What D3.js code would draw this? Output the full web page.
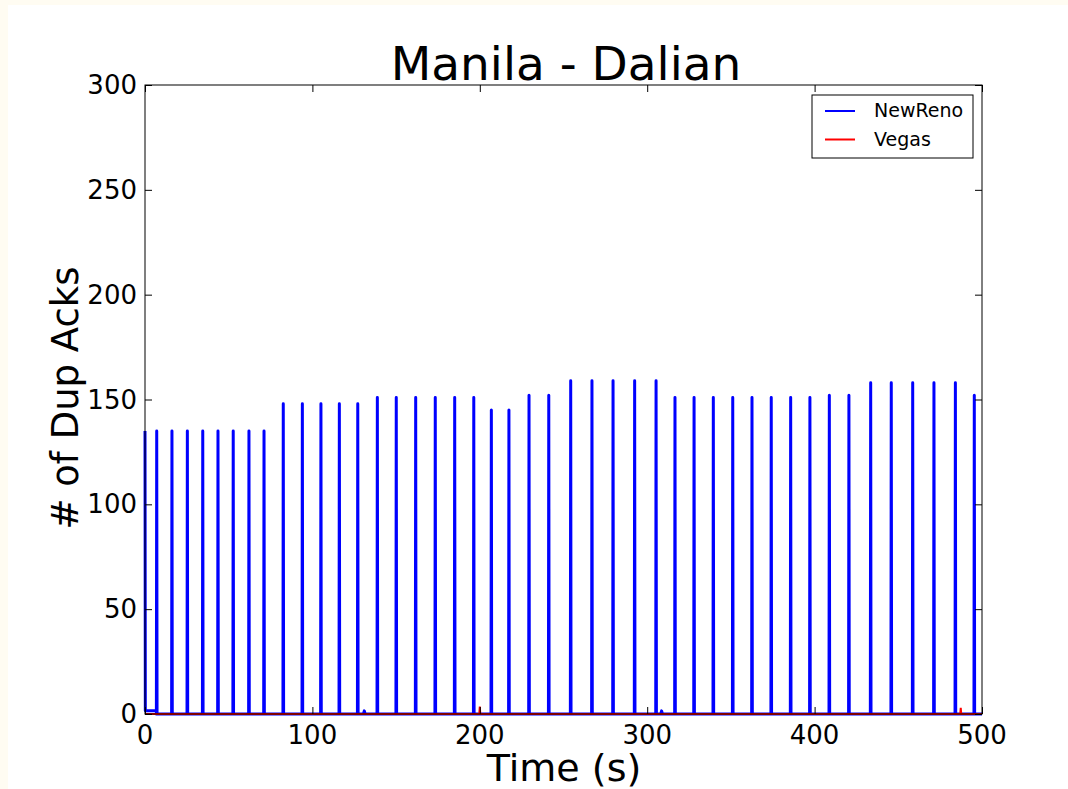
<!DOCTYPE html>
<html>
<head>
<meta charset="utf-8">
<script src="https://cdn.jsdelivr.net/npm/d3@7"></script>
<style>
  body { margin: 0; background: #fffcf2; }
  svg { display: block; }
</style>
</head>
<body>
<div id="viz-container"></div>
<script>
let w = 1068;
let h = 789;

// spike times (s) and heights for NewReno
let renoTimes = [0, 7.0, 16.1, 25.3, 34.5, 43.6, 52.7, 62.1, 71.1,
  82.6, 94.0, 105.1, 116.1, 127.1,
  138.8, 150.1, 161.7, 173.4, 185.0, 196.4,
  206.9, 217.4, 229.4, 241.2,
  254.3, 267.0, 279.6, 292.5, 305.3,
  316.6, 328.0, 339.5, 351.1, 362.6, 374.1, 385.7, 397.2,
  408.8, 420.5,
  433.5, 445.8, 458.6, 471.3, 484.1, 495.4];
let renoValues = [135, 135, 135, 135, 135, 135, 135, 135, 135,
  148, 148, 148, 148, 148,
  151, 151, 151, 151, 151, 151,
  145, 145, 152, 152,
  159, 159, 159, 159, 159,
  151, 151, 151, 151, 151, 151, 151, 151,
  152, 152,
  158, 158, 158, 158, 158, 152];
// small blips near the floor
let renoBlipTimes = [131, 308.6];
let renoBlipValues = [1.5, 1.5];
let vegasBlipTimes = [200, 487.3];
let vegasBlipValues = [3.5, 3];

let xTicks = [0, 100, 200, 300, 400, 500];
let yTicks = [0, 50, 100, 150, 200, 250, 300];

let padLeft = 145, padRight = 982, padTop = 85, padBottom = 714;

let viz = d3.select("#viz-container")
  .append("svg")
  .attr("width", w)
  .attr("height", h);

viz.append("rect")
  .attr("x", 8).attr("y", 5)
  .attr("width", w - 8).attr("height", h - 5)
  .attr("fill", "white");

let xScale = d3.scaleLinear().domain([0, 500]).range([padLeft, padRight]);
let yScale = d3.scaleLinear().domain([0, 300]).range([padBottom, padTop]);

let font = "DejaVu Sans, sans-serif";

// build spike polylines
function spikes(times, values, d) {
  let pts = [];
  times.forEach(function(t, i) {
    if (t - d > 0) pts.push([t - d, 0]);
    pts.push([t, values[i]]);
    pts.push([t + d, 0]);
  });
  return pts;
}

let renoPts = [[0, renoValues[0]], [0.2, 1.5], [renoTimes[1] - 0.2, 1.5]];
spikes(renoTimes.slice(1), renoValues.slice(1), 0.2).forEach(function(p) { renoPts.push(p); });
renoBlipTimes.forEach(function(t, i) {
  renoPts.push([t - 0.5, 0], [t, renoBlipValues[i]], [t + 0.5, 0]);
});
renoPts.sort(function(a, b) { return a[0] - b[0]; });
renoPts.push([500, 0]);

let vegasPts = [[0, 0]];
vegasBlipTimes.forEach(function(t, i) {
  vegasPts.push([t - 0.3, 0], [t, vegasBlipValues[i]], [t + 0.3, 0]);
});
vegasPts.push([500, 0]);

let line = d3.line()
  .x(function(d) { return xScale(d[0]); })
  .y(function(d) { return yScale(d[1]); });

let plot = viz.append("g");

plot.append("path")
  .datum(renoPts)
  .attr("d", line)
  .attr("fill", "none")
  .attr("stroke", "#0000ff")
  .attr("stroke-width", 3)
  .attr("stroke-linejoin", "round");

plot.append("path")
  .datum(vegasPts)
  .attr("d", line)
  .attr("fill", "none")
  .attr("stroke", "#ff0000")
  .attr("stroke-width", 2);

// frame
viz.append("rect")
  .attr("x", padLeft).attr("y", padTop)
  .attr("width", padRight - padLeft).attr("height", padBottom - padTop)
  .attr("fill", "none")
  .attr("stroke", "black")
  .attr("stroke-width", 1);

// ticks, pointing inward on all sides
let xAxisB = viz.append("g").attr("transform", "translate(0," + padBottom + ")")
  .call(d3.axisTop(xScale).tickValues(xTicks).tickSize(7).tickFormat(""));
let xAxisT = viz.append("g").attr("transform", "translate(0," + padTop + ")")
  .call(d3.axisBottom(xScale).tickValues(xTicks).tickSize(7).tickFormat(""));
let yAxisL = viz.append("g").attr("transform", "translate(" + padLeft + ",0)")
  .call(d3.axisRight(yScale).tickValues(yTicks).tickSize(7).tickFormat(""));
let yAxisR = viz.append("g").attr("transform", "translate(" + padRight + ",0)")
  .call(d3.axisLeft(yScale).tickValues(yTicks).tickSize(7).tickFormat(""));
[xAxisB, xAxisT, yAxisL, yAxisR].forEach(function(a) {
  a.select(".domain").remove();
  a.selectAll("line").attr("stroke", "black");
});

// tick labels
viz.append("g").selectAll("text").data(xTicks).enter()
  .append("text")
  .attr("x", function(d) { return xScale(d); })
  .attr("y", padBottom + 30)
  .attr("text-anchor", "middle")
  .attr("font-family", font)
  .attr("font-size", "26px")
  .text(function(d) { return d; });

viz.append("g").selectAll("text").data(yTicks).enter()
  .append("text")
  .attr("x", padLeft - 8)
  .attr("y", function(d) { return yScale(d) + 9; })
  .attr("text-anchor", "end")
  .attr("font-family", font)
  .attr("font-size", "26px")
  .text(function(d) { return d; });

// title and axis labels
viz.append("text")
  .attr("x", 566)
  .attr("y", 80)
  .attr("text-anchor", "middle")
  .attr("font-family", font)
  .attr("font-size", "47px")
  .text("Manila - Dalian");

viz.append("text")
  .attr("x", 564)
  .attr("y", 781)
  .attr("text-anchor", "middle")
  .attr("font-family", font)
  .attr("font-size", "38px")
  .text("Time (s)");

viz.append("text")
  .attr("transform", "translate(78," + 398 + ") rotate(-90)")
  .attr("text-anchor", "middle")
  .attr("font-family", font)
  .attr("font-size", "37px")
  .text("# of Dup Acks");

// legend
let legend = viz.append("g").attr("transform", "translate(812,95)");
legend.append("rect")
  .attr("width", 161).attr("height", 63)
  .attr("fill", "white")
  .attr("stroke", "black")
  .attr("stroke-width", 1);
let names = ["NewReno", "Vegas"];
let colors = ["#0000ff", "#ff0000"];
names.forEach(function(n, i) {
  let yy = 16 + i * 28.5;
  legend.append("line")
    .attr("x1", 13).attr("x2", 43)
    .attr("y1", yy).attr("y2", yy)
    .attr("stroke", colors[i])
    .attr("stroke-width", 2);
  legend.append("text")
    .attr("x", 62).attr("y", yy + 6)
    .attr("font-family", font)
    .attr("font-size", "19px")
    .text(n);
});
</script>
</body>
</html>
